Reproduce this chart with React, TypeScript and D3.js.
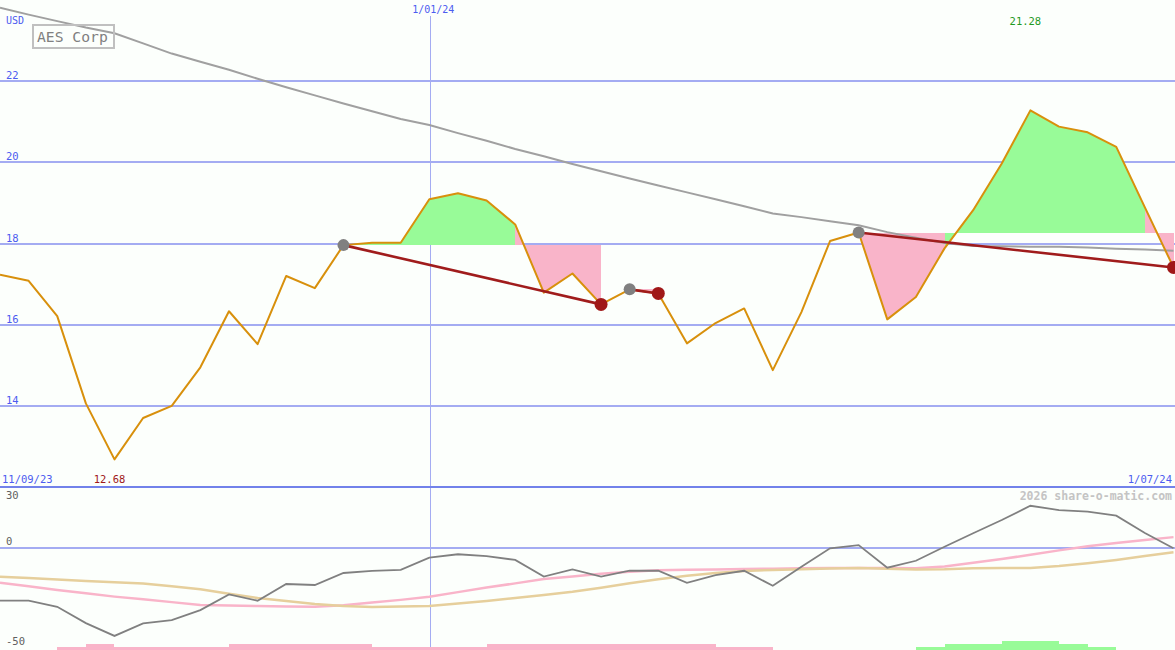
import React from 'react';
import * as d3 from 'd3';

const W = 1175;
const H = 650;

// Price series (USD), 42 sessions
const price = [17.23, 17.08, 16.21, 14.06, 12.68, 13.70, 14.00, 14.95, 16.33, 15.52, 17.20, 16.90, 17.96, 18.02, 18.02, 19.09, 19.24, 19.06, 18.47, 16.79, 17.26, 16.50, 16.87, 16.77, 15.54, 16.04, 16.40, 14.88, 16.31, 18.06, 18.27, 16.13, 16.68, 17.88, 18.82, 19.97, 21.28, 20.88, 20.74, 20.38, 18.89, 17.41];
// Long moving average
const movingAvg = [23.81, 23.64, 23.48, 23.32, 23.18, 22.93, 22.68, 22.48, 22.28, 22.06, 21.85, 21.65, 21.45, 21.26, 21.07, 20.92, 20.72, 20.53, 20.33, 20.15, 19.96, 19.78, 19.60, 19.43, 19.26, 19.09, 18.92, 18.74, 18.65, 18.55, 18.45, 18.28, 18.14, 18.01, 17.94, 17.93, 17.92, 17.92, 17.90, 17.87, 17.85, 17.82];
// Lower panel oscillator + two signal lines + histogram
const oscillator = [-25.8, -25.8, -28.8, -36.8, -43.1, -36.9, -35.3, -30.4, -22.7, -25.8, -17.6, -18.1, -12.2, -11.2, -10.7, -4.7, -3.0, -3.9, -5.8, -14.0, -10.4, -14.0, -11.1, -11.1, -17.0, -13.2, -11.1, -18.5, -9.1, -0.1, 1.5, -9.6, -6.2, 0.7, 7.3, 13.8, 20.8, 18.7, 17.9, 15.9, 7.4, -0.1];
const signalPink = [-17.0, -18.7, -20.5, -22.2, -23.8, -25.1, -26.5, -27.9, -28.2, -28.4, -28.7, -28.8, -28.0, -26.7, -25.4, -23.9, -21.6, -19.3, -17.3, -15.1, -13.9, -12.6, -11.6, -10.8, -10.6, -10.5, -10.3, -10.1, -9.9, -9.8, -9.7, -9.8, -9.9, -9.0, -7.2, -5.3, -3.3, -1.1, 0.9, 2.5, 4.0, 5.4];
const signalTan = [-14.0, -14.7, -15.4, -16.1, -16.8, -17.4, -18.7, -20.2, -22.4, -24.5, -26.0, -27.4, -28.4, -28.9, -28.7, -28.4, -27.2, -25.9, -24.5, -23.0, -21.4, -19.4, -17.2, -15.3, -13.6, -12.2, -11.2, -10.7, -10.4, -10.0, -9.8, -10.1, -10.5, -10.4, -9.9, -9.8, -9.8, -8.8, -7.4, -5.8, -3.9, -2.0];
const histogram = [0, 0, -1.5, -3, -1.5, -1.5, -1.5, -1.5, -3, -3, -3, -3, -3, -1.5, -1.5, -1.5, -1.5, -3, -3, -3, -3, -3, -3, -3, -3, -1.5, -1.5, 0, 0, 0, 0, 0, 1.5, 3, 3, 4.5, 4.5, 3, 1.5, 0, 0, 0];

// Trend episodes (start index, end index)
const episodeStarts = [12, 22, 30];
const episodeEnds = [21, 23, 41];

// Axis ticks / labels
const priceTicks = [14, 16, 18, 20, 22];
const lowerTicks = [30, 0, -50];
const startDate = '11/09/23';
const endDate = '1/07/24';
const midDate = '1/01/24';
const midDateIndex = 15;
const title = 'AES Corp';
const currency = 'USD';
const credit = '2026 share-o-matic.com';

const MONO = '"DejaVu Sans Mono", "Liberation Mono", monospace';
const BLUE_TXT = '#4c5cf0';
const GRID = '#a4acf2';
const GREEN_FILL = '#98fb98';
const PINK_FILL = '#f9b4c9';

export default function App() {
  const n = price.length;
  const x = d3.scaleLinear().domain([0, n - 1]).range([0, 1173.5]);
  const y = d3.scaleLinear().domain([12, 24]).range([487, 0]);
  const yl = d3.scaleLinear().domain([-50, 30]).range([650, 487]);

  const mainLine = d3.line<number>().x((_, i) => x(i)).y((d) => y(d));
  const lowLine = d3.line<number>().x((_, i) => x(i)).y((d) => yl(d));

  const maxIdx = d3.maxIndex(price);
  const minIdx = d3.minIndex(price);

  // fills for each episode
  const fills: { d: string; color: string }[] = [];
  episodeStarts.forEach((s, k) => {
    const e = episodeEnds[k];
    const level = price[s];
    for (let i = s; i < e; i++) {
      const pts = [i, i + 1];
      const area = d3
        .area<number>()
        .x((j) => x(j))
        .y0(() => y(level))
        .y1((j) => y(price[j]));
      fills.push({ d: area(pts) || '', color: price[i + 1] >= level ? GREEN_FILL : PINK_FILL });
    }
  });

  return (
    <svg
      width={W}
      height={H}
      style={{ position: 'absolute', left: 0, top: 0, background: '#fcfffc' }}
      fontFamily={MONO}
    >
      <rect x={0} y={0} width={W} height={H} fill="#fcfffc" />

      {/* price grid */}
      {priceTicks.map((t) => (
        <g key={'pt' + t}>
          <line x1={0} x2={W} y1={Math.round(y(t))} y2={Math.round(y(t))} stroke={GRID} strokeWidth={2} shapeRendering="crispEdges" />
          <text x={6} y={Math.round(y(t)) - 2} fontSize={10.5} fill={BLUE_TXT}>{t}</text>
        </g>
      ))}

      {/* vertical date marker */}
      <line x1={Math.round(x(midDateIndex)) + 1.5} x2={Math.round(x(midDateIndex)) + 1.5} y1={16} y2={H} stroke={GRID} strokeWidth={1} shapeRendering="crispEdges" />
      <text x={x(midDateIndex) + 4} y={13} fontSize={10} fill={BLUE_TXT} textAnchor="middle">{midDate}</text>

      {/* fills */}
      {fills.map((f, i) => (
        <path key={'f' + i} d={f.d} fill={f.color} stroke="none" shapeRendering="crispEdges" />
      ))}

      {/* moving average */}
      <path d={mainLine(movingAvg) || ''} fill="none" stroke="#a0a0a0" strokeWidth={2} />

      {/* price */}
      <path d={mainLine(price) || ''} fill="none" stroke="#d8900c" strokeWidth={2} strokeLinejoin="round" />

      {/* trend lines */}
      {episodeStarts.map((s, k) => (
        <line key={'tl' + k} x1={x(s)} y1={y(price[s])} x2={x(episodeEnds[k])} y2={y(price[episodeEnds[k]])} stroke="#a01c1c" strokeWidth={2.6} />
      ))}
      {episodeStarts.map((s) => (
        <circle key={'cs' + s} cx={x(s)} cy={y(price[s])} r={6} fill="#808080" />
      ))}
      {episodeEnds.map((e) => (
        <circle key={'ce' + e} cx={x(e)} cy={y(price[e])} r={6.5} fill="#a01818" />
      ))}

      {/* title box */}
      <rect x={33} y={25} width={81} height={23} fill="none" stroke="#c0c0c0" strokeWidth={2} />
      <text x={37} y={42} fontSize={14.7} fill="#808080">{title}</text>
      <text x={6} y={24} fontSize={10} fill={BLUE_TXT}>{currency}</text>

      {/* extremes */}
      <text x={x(maxIdx) - 5} y={25} fontSize={10.5} fill="#1f9a1f" textAnchor="middle">{price[maxIdx].toFixed(2)}</text>
      <text x={x(minIdx) - 5} y={483} fontSize={10.5} fill="#a01818" textAnchor="middle">{price[minIdx].toFixed(2)}</text>

      {/* date labels */}
      <text x={2} y={483} fontSize={10.5} fill={BLUE_TXT}>{startDate}</text>
      <text x={1172} y={483} fontSize={10.5} fill={BLUE_TXT} textAnchor="end">{endDate}</text>

      {/* lower panel */}
      <line x1={0} x2={W} y1={Math.round(yl(0))} y2={Math.round(yl(0))} stroke={GRID} strokeWidth={2} shapeRendering="crispEdges" />
      {histogram.map((v, i) =>
        v === 0 ? null : (
          <rect
            key={'h' + i}
            x={x(i)}
            width={x(i + 1) - x(i)}
            y={yl(-50 + Math.abs(v))}
            height={yl(-50) - yl(-50 + Math.abs(v))}
            fill={v > 0 ? GREEN_FILL : PINK_FILL}
            shapeRendering="crispEdges"
          />
        )
      )}
      <path d={lowLine(signalPink) || ''} fill="none" stroke="#f9b4c9" strokeWidth={2.5} />
      <path d={lowLine(signalTan) || ''} fill="none" stroke="#e6cf9c" strokeWidth={2.5} />
      <path d={lowLine(oscillator) || ''} fill="none" stroke="#808080" strokeWidth={1.8} />

      {lowerTicks.map((t) => (
        <text
          key={'lt' + t}
          x={6}
          y={t === 30 ? yl(t) + 12 : t === 0 ? yl(t) - 3 : yl(t) - 5}
          fontSize={10.5}
          fill="#606060"
        >
          {t}
        </text>
      ))}
      <text x={1172} y={500} fontSize={11.5} fill="#c4c4c4" textAnchor="end" fontWeight="bold">{credit}</text>

      {/* panel separator */}
      <line x1={0} x2={W} y1={487} y2={487} stroke="#7282ea" strokeWidth={2} shapeRendering="crispEdges" />
    </svg>
  );
}
